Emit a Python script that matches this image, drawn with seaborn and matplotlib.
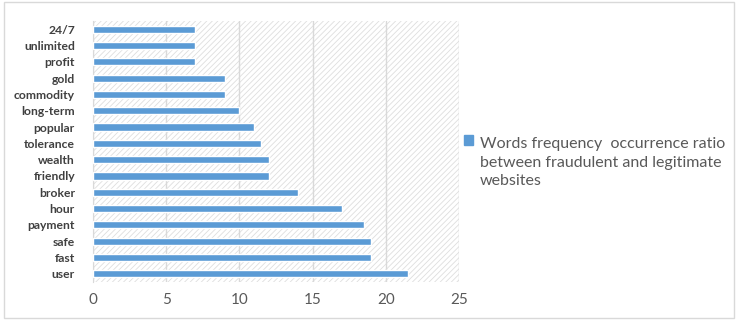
import numpy as np
import matplotlib
matplotlib.use('Agg')
import matplotlib.pyplot as plt
import seaborn as sns
import pandas as pd
from matplotlib.patches import Rectangle
from matplotlib.legend_handler import HandlerPatch

sns.set_style('white')
plt.rcParams['font.family'] = ['Lato', 'DejaVu Sans']
plt.rcParams['hatch.linewidth'] = 0.6
plt.rcParams['hatch.color'] = '#dedede'

# word frequency ratio, top to bottom as shown
words = ['24/7', 'unlimited', 'profit', 'gold', 'commodity', 'long-term', 'popular',
         'tolerance', 'wealth', 'friendly', 'broker', 'hour', 'payment', 'safe',
         'fast', 'user']
ratio = [7, 7, 7, 9, 9, 10, 11, 11.5, 12, 12, 14, 17, 18.5, 19, 19, 21.5]
legend_label = 'Words frequency  occurrence ratio\nbetween fraudulent and legitimate\nwebsites'
bar_color = '#5B9BD5'

df = pd.DataFrame({'word': words, 'ratio': ratio})

fig = plt.figure(figsize=(7.38, 3.2), dpi=100)
ax = fig.add_axes([93/738, 1 - 282/320, (459-93)/738, (282-21)/320])

# hatched plot area background
ax.patch.set_facecolor('white')
ax.patch.set_hatch('//////')
ax.patch.set_edgecolor('#dedede')

sns.barplot(data=df, x='ratio', y='word', orient='h', color=bar_color,
            width=0.44, saturation=1, ax=ax, zorder=3)

ax.set_xlim(0, 25)
ax.set_ylim(len(words) - 0.5, -0.5)
ax.set_xticks([0, 5, 10, 15, 20, 25])
ax.grid(axis='x', color='#d9d9d9', linewidth=1, zorder=0)
ax.set_axisbelow(True)
for s in ['top', 'bottom', 'right']:
    ax.spines[s].set_visible(False)
ax.spines['left'].set_color('#d9d9d9')
ax.set_xlabel('')
ax.set_ylabel('')
ax.tick_params(axis='x', colors='#595959', labelsize=11, length=0, pad=8)
ax.tick_params(axis='y', colors='#404040', labelsize=8.7, length=0, pad=13)
for t in ax.get_yticklabels():
    t.set_fontweight('bold')

leg_fs = 11.5
line_sp = 1.4


# legend square sits next to the first line of the label
def top_square(legend, orig_handle, xdescent, ydescent, width, height, fontsize):
    return Rectangle((-xdescent, -ydescent + fontsize * line_sp), width, height)


leg = ax.legend(handles=[Rectangle((0, 0), 1, 1, color=bar_color)], labels=[legend_label],
                loc='upper left', bbox_to_anchor=(1.0, 0.573), frameon=False,
                fontsize=leg_fs, handlelength=0.55, handleheight=0.55,
                handletextpad=0.45, borderaxespad=0.0, borderpad=0.3,
                handler_map={Rectangle: HandlerPatch(patch_func=top_square)})
for t in leg.get_texts():
    t.set_color('#595959')
    t.set_linespacing(line_sp)

# outer chart border
fig.patches.append(Rectangle((4/738, 2/320), 730/738, 316/320, transform=fig.transFigure,
                             fill=False, edgecolor='#d9d9d9', linewidth=1))

fig.savefig('out.png', dpi=100)
